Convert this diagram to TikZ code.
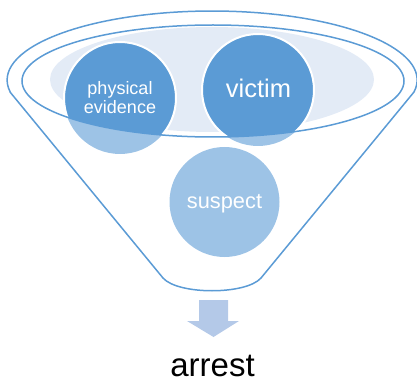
\documentclass[tikz,border=0pt]{standalone}
\usepackage{fontspec}
\setmainfont{Liberation Sans}
\definecolor{dblue}{HTML}{5B9BD5}
\definecolor{lblue}{HTML}{9DC3E6}
\definecolor{pale}{HTML}{E3EBF6}
\definecolor{arrowc}{HTML}{B4C9E8}
\definecolor{rim}{HTML}{5B9BD5}
\begin{document}
\begin{tikzpicture}[x=1pt,y=1pt,
  rimline/.style={draw=rim,line width=1.5pt},
  ball/.style={circle,inner sep=0pt},
  lbl/.style={text=white,anchor=base,inner sep=0pt}]
\useasboundingbox (0,0) rectangle (417,378);
% pale ellipse
\fill[pale] (212,298.5) ellipse[x radius=162pt,y radius=52.5pt];
% light circles
\node[ball,fill=lblue,minimum size=112pt] (pe0) at (120,280) {};
\node[ball,fill=lblue,minimum size=112pt] (vi0) at (258,288) {};
\node[ball,fill=lblue,minimum size=110pt] (su) at (224.5,176) {};
% dark parts inside inner ellipse
\begin{scope}
\clip (213,297) ellipse[x radius=191pt,y radius=56pt];
\node[ball,fill=dblue,draw=white,line width=2pt,minimum size=112pt] (pe) at (120,280) {};
\node[ball,fill=dblue,draw=white,line width=2pt,minimum size=112pt] (vi) at (258,288) {};
\end{scope}
% inner ellipse
\draw[rimline] (213,297) ellipse[x radius=191pt,y radius=56pt];
% funnel
\draw[rimline,line join=round] (10,286) -- (163,100) .. controls (178,83) and (246,83) .. (261,100) -- (414,286)
  arc[start angle=-10,end angle=190,x radius=205pt,y radius=69pt];
% labels
\node[lbl,font=\fontsize{18}{20}\selectfont] (t1) at (120,283) {physical};
\node[lbl,font=\fontsize{18}{20}\selectfont] (t2) at (120,264) {evidence};
\node[lbl,font=\fontsize{25.5}{28}\selectfont] (t3) at (258.5,280) {victim};
\node[lbl,font=\fontsize{21.8}{24}\selectfont] (t4) at (224.5,170) {suspect};
% arrow
\fill[arrowc] (199,78) -- (228,78) -- (228,57) -- (239,57) -- (213.5,41) -- (187,57) -- (199,57) -- cycle;
\node[anchor=base,inner sep=0pt,font=\fontsize{33}{36}\selectfont] (ar) at (212.5,2) {arrest};
\end{tikzpicture}
\end{document}
